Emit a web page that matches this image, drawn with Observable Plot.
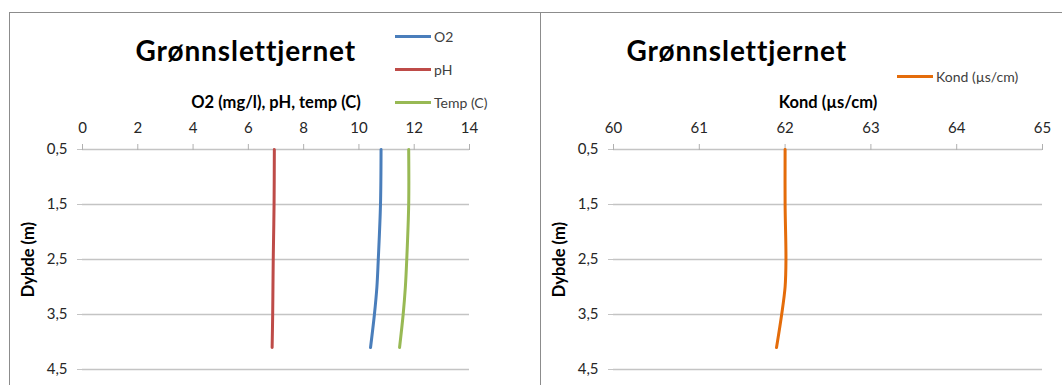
<!DOCTYPE html>
<html>
<head>
<meta charset="utf-8">
<script src="https://cdn.jsdelivr.net/npm/d3@7"></script>
<script src="https://cdn.jsdelivr.net/npm/@observablehq/plot@0.6"></script>
<style>
  body { margin: 0; background: #fff; font-family: Lato, "Open Sans", sans-serif; }
  #wrap { position: relative; width: 1062px; height: 385px; overflow: hidden; background: #fff; }
  .panel { position: absolute; top: 12px; height: 420px; border: 1px solid #8c8c8c; box-sizing: border-box; }
  .chart { position: absolute; top: 0; }
  .title { position: absolute; top: 33px; height: 34px; line-height: 34px; font-weight: bold; font-size: 28px; letter-spacing: 0.9px; color: #000; white-space: nowrap; }
  .legend { position: absolute; font-size: 14px; color: #404040; }
  .legend .item { position: absolute; display: flex; align-items: center; height: 18px; white-space: nowrap; }
  .legend .swatch { width: 36px; height: 3px; margin-right: 3px; }
  svg [aria-label="x-axis label"] text, svg [aria-label="y-axis label"] text { font-weight: bold; fill: #000; font-size: 16.5px; }
</style>
</head>
<body>
<div id="wrap">
  <div class="panel" style="left:9px;width:532px;"></div>
  <div class="panel" style="left:540px;width:540px;"></div>
</div>
<script>
// Depth profile, Grønnslettjernet
const depth = [0.5, 1.5, 2.5, 3.0, 3.5, 4.1];
const o2    = [10.80, 10.78, 10.70, 10.65, 10.56, 10.42];
const ph    = [6.94, 6.93, 6.90, 6.89, 6.88, 6.86];
const temp  = [11.80, 11.80, 11.73, 11.68, 11.60, 11.47];
const kond  = [62.00, 62.00, 62.01, 62.00, 61.96, 61.90];

const seriesNames  = ["O2", "pH", "Temp (C)"];
const seriesColors = ["#4a7ebb", "#be4b48", "#98b954"];
const kondName = "Kond (µs/cm)";
const kondColor = "#e46c0a";

const xTicksLeft  = [0, 2, 4, 6, 8, 10, 12, 14];
const xTicksRight = [60, 61, 62, 63, 64, 65];
const depthTicks  = [0.5, 1.5, 2.5, 3.5, 4.5];

const chartTitle = "Grønnslettjernet";
const xLabelLeft = "O2 (mg/l), pH, temp (C)";
const xLabelRight = "Kond (µs/cm)";
const yLabel = "Dybde (m)";

const leftRows = [o2, ph, temp].flatMap((vals, i) =>
  vals.map((v, j) => ({series: seriesNames[i], value: v, depth: depth[j]})));
const rightRows = kond.map((v, j) => ({series: kondName, value: v, depth: depth[j]}));

const comma = d => String(d).replace(".", ",");
const wrap = document.getElementById("wrap");

function profile({rows, xDomain, xTicks, xLabel, width, marginLeft, marginRight, colorDomain, colorRange}) {
  return Plot.plot({
    width, height: 385,
    marginLeft, marginRight, marginTop: 149, marginBottom: 16,
    style: {fontFamily: "Lato, 'Open Sans', sans-serif", fontSize: "15px", color: "#262626", background: "transparent"},
    x: {domain: xDomain},
    y: {domain: [0.5, 4.5], reverse: true},
    color: {domain: colorDomain, range: colorRange},
    marks: [
      Plot.gridY(depthTicks, {stroke: "#c4c4c4", strokeOpacity: 1, strokeWidth: 1.5}),
      Plot.axisY(depthTicks, {tickFormat: comma, tickSize: 5, tickPadding: 10, stroke: "#c4c4c4",
        fontSize: 15, label: yLabel, labelAnchor: "center", labelArrow: "none", labelOffset: 60}),
      Plot.axisX(xTicks, {anchor: "top", tickSize: 6, tickPadding: 11, stroke: "#b0b0b0",
        fontSize: 15, label: xLabel, labelAnchor: "center", labelArrow: "none", labelOffset: 53}),
      Plot.line(rows, {x: "value", y: "depth", z: "series", stroke: "series",
        strokeWidth: 3, curve: "catmull-rom"})
    ]
  });
}

const left = profile({rows: leftRows, xDomain: [0, 14], xTicks: xTicksLeft, xLabel: xLabelLeft,
  width: 540, marginLeft: 82, marginRight: 71, colorDomain: seriesNames, colorRange: seriesColors});
left.classList.add("chart");
left.style.left = "0px";
wrap.appendChild(left);

const right = profile({rows: rightRows, xDomain: [60, 65], xTicks: xTicksRight, xLabel: xLabelRight,
  width: 522, marginLeft: 73, marginRight: 20, colorDomain: [kondName], colorRange: [kondColor]});
right.classList.add("chart");
right.style.left = "540px";
wrap.appendChild(right);

// Titles
function addTitle(centerX) {
  const t = document.createElement("div");
  t.className = "title";
  t.textContent = chartTitle;
  wrap.appendChild(t);
  t.style.left = (centerX - t.offsetWidth / 2) + "px";
}
addTitle(246);
addTitle(737);

// Legends
function addLegend(x, names, colors, ys) {
  const lg = document.createElement("div");
  lg.className = "legend";
  lg.style.left = x + "px";
  lg.style.top = "0px";
  names.forEach((n, i) => {
    const it = document.createElement("div");
    it.className = "item";
    it.style.top = (ys[i] - 9) + "px";
    const sw = document.createElement("div");
    sw.className = "swatch";
    sw.style.background = colors[i];
    const tx = document.createElement("span");
    tx.textContent = n;
    it.appendChild(sw);
    it.appendChild(tx);
    lg.appendChild(it);
  });
  wrap.appendChild(lg);
}
addLegend(395, seriesNames, seriesColors, [36, 69, 102]);
addLegend(897, [kondName], [kondColor], [76]);
</script>
</body>
</html>
